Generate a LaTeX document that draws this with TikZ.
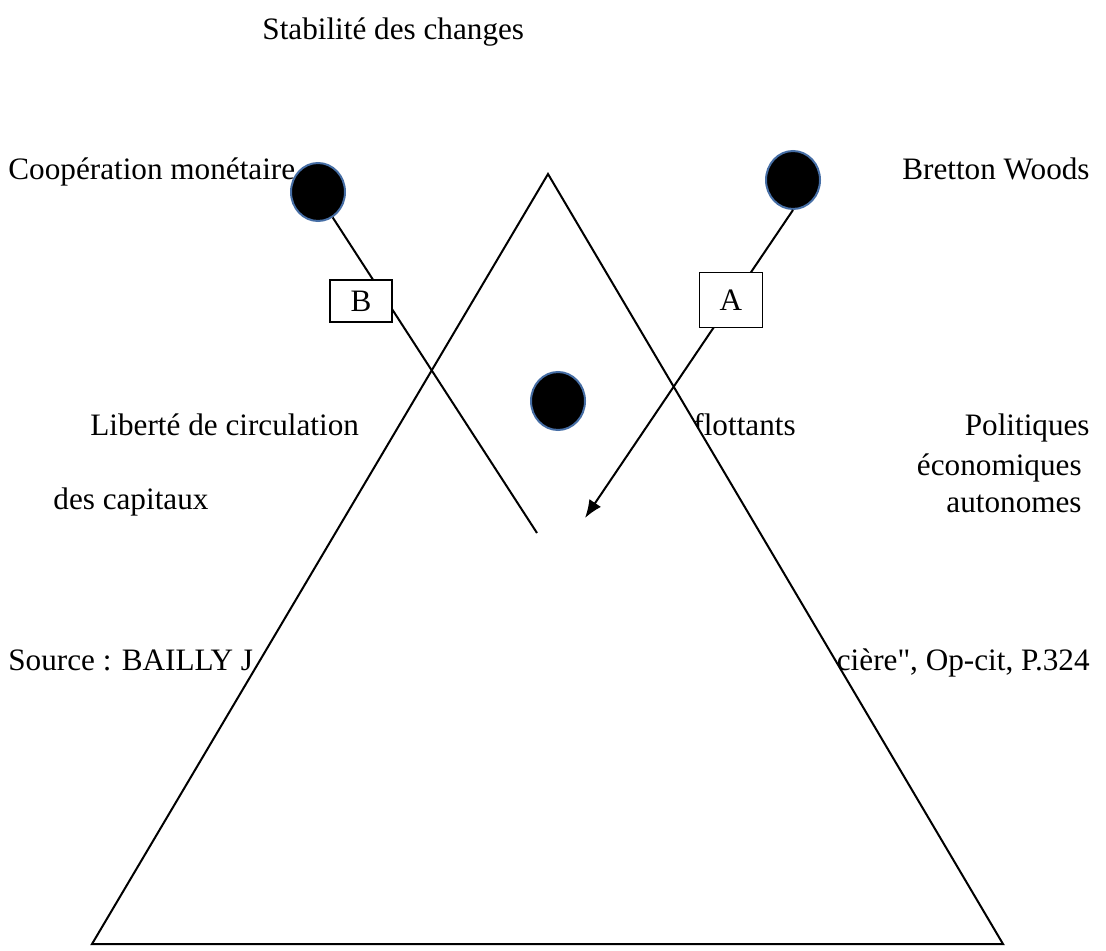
\documentclass[tikz,border=0pt]{standalone}
\usepackage{fontspec}
\setmainfont{Liberation Serif}[Ligatures=TeXOff]
\usepackage{tikz}
\usetikzlibrary{positioning,shapes.geometric,arrows.meta}
\definecolor{dotrim}{RGB}{70,110,165}

\tikzset{
  lbl/.style={font=\fontsize{15.6}{18}\selectfont, inner sep=0pt},
  dot/.style={ellipse, draw=dotrim, line width=1pt, fill=black, minimum width=27pt, minimum height=29pt, inner sep=0pt},
  tag/.style={draw, fill=white, line width=0.6pt, font=\fontsize{15.6}{18}\selectfont, inner sep=0pt},
  link/.style={line width=1pt}
}

\begin{document}
\begin{tikzpicture}[x=0.5pt, y=-0.5pt]
\useasboundingbox (0,0) rectangle (1106,951);

% texts
\node[lbl, anchor=base west] (stab) at (262,40) {Stabilité des changes};
\node[lbl, anchor=base west] (coop) at (8,180) {Coopération monétaire};
\node[lbl, anchor=base east] (bw) at (1090,180) {Bretton Woods};
\node[lbl, anchor=base west] (lib) at (90,435) {Liberté de circulation};
\node[lbl, anchor=base west] (cap) at (53,509) {des capitaux};
\node[lbl, anchor=base west] (flot) at (693,435) {flottants};
\node[lbl, anchor=base east] (pol1) at (1090,435) {Politiques};
\node[lbl, anchor=base east] (pol2) at (1082,475) {économiques};
\node[lbl, anchor=base east] (pol3) at (1082,512) {autonomes};
\node[lbl, anchor=base west] (src1) at (8,670) {Source : BAILLY J};
\node[lbl, anchor=base east] (src2) at (1090,670) {cière", Op-cit, P.324};

% triangle
\filldraw[fill=white, line width=1pt] (548,174) -- (92,944) -- (1003,944) -- cycle;

% dots
\node[dot] (c1) at (318,192) {};
\node[dot] (c2) at (793,180) {};
\node[dot] (c3) at (558,401) {};

% lines
\coordinate (bEnd) at (537,533);
\coordinate (aTip) at (585,518);
\draw[link] (c1.-60) -- (bEnd);
\draw[link, -{Latex[length=9pt, width=7pt]}] (c2.south) -- (aTip);

% boxes
\node[tag, minimum width=31pt, minimum height=21pt] (boxB) at (361,301) {B};
\node[tag, minimum width=31.5pt, minimum height=27.5pt] (boxA) at (731,300) {A};
\end{tikzpicture}
\end{document}
